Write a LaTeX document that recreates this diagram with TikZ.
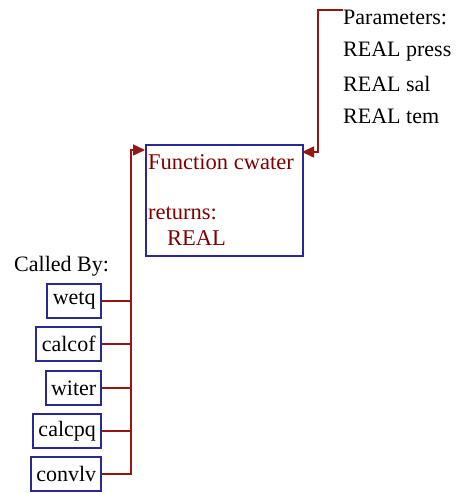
\documentclass[tikz,border=0pt]{standalone}
\usepackage{fontspec}
\setmainfont{Liberation Serif}
\usetikzlibrary{arrows.meta}
\definecolor{boxblue}{RGB}{40,40,150}
\definecolor{linered}{RGB}{150,20,20}
\definecolor{textred}{RGB}{128,0,0}
\tikzset{
  callerbox/.style={draw=boxblue, line width=1.6pt, inner sep=0pt, minimum height=34pt, font=\fontsize{22}{25}\selectfont, text=black},
  mainbox/.style={draw=boxblue, line width=1.6pt, inner sep=0pt, minimum width=157pt, minimum height=111pt},
  maintext/.style={inner sep=0pt, anchor=west, font=\fontsize{22.5}{25}\selectfont, text=textred},
  plaintext/.style={inner sep=0pt, anchor=west, font=\fontsize{22}{25}\selectfont, text=black},
  conn/.style={draw=linered, line width=1.5pt},
  arr/.style={conn, -{Triangle[length=12pt, width=11pt]}}
}
\begin{document}
\begin{tikzpicture}[x=1pt, y=-1pt]
\useasboundingbox (0,0) rectangle (456,493);
% main box
\node[mainbox, anchor=north west] (main) at (145,144) {};
\node[maintext] (fn) at (148,162) {Function cwater};
\node[maintext] (ret) at (148,213) {returns:};
\node[maintext] (rtype) at (167,238) {REAL};
% parameters
\node[plaintext] (params) at (343,17) {Parameters:};
\node[plaintext] (p1) at (343,52) {REAL press};
\node[plaintext] (p2) at (343,84) {REAL sal};
\node[plaintext] (p3) at (343,116) {REAL tem};
% called by
\node[plaintext] (calledby) at (14,266) {Called By:};
\node[callerbox, minimum width=54pt, anchor=east] (wetq) at (102,301) {wetq};
\node[callerbox, minimum width=65pt, anchor=east] (calcof) at (102,344) {calcof};
\node[callerbox, minimum width=55pt, anchor=east] (witer) at (102,388) {witer};
\node[callerbox, minimum width=68pt, anchor=east] (calcpq) at (102,431) {calcpq};
\node[callerbox, minimum width=70pt, anchor=east] (convlv) at (102,474) {convlv};
% coordinates
\coordinate (bus) at (131,0);
\coordinate (mainin) at (145,150);
\coordinate (paramout) at (302,152);
\coordinate (pbus) at (318,0);
% connectors from callers
\foreach \c in {wetq,calcof,witer,calcpq} {
  \draw[conn] (\c.east) -- (\c.east -| bus);
}
\draw[arr] (convlv.east) -- (convlv.east -| bus) -- (bus |- mainin) -- (mainin);
% parameters connector
\draw[arr] (params.west |- 0,10) -- (pbus |- 0,10) -- (pbus |- paramout) -- (paramout);
\end{tikzpicture}
\end{document}
